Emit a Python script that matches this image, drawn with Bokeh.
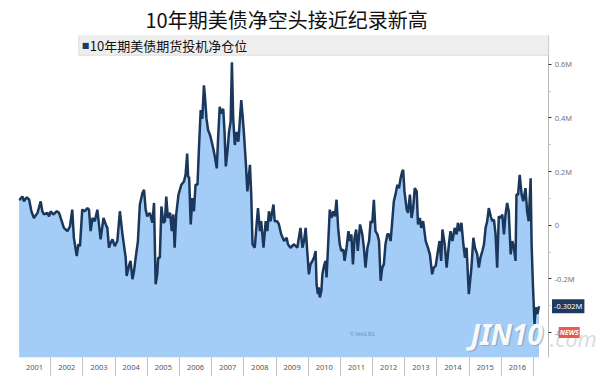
from bokeh.plotting import figure
from bokeh.models import Range1d, FixedTicker, CustomJSTickFormatter, Label, BoxAnnotation, ColumnDataSource
from bokeh.embed import file_html
from bokeh.resources import INLINE

title_text = "10年期美债净空头接近纪录新高"
series_name = "10年期美债期货投机净仓位"

# decimal year of each reading
dates = [2001.02, 2001.12, 2001.17, 2001.25, 2001.33, 2001.40, 2001.48, 2001.59, 2001.69, 2001.74, 2001.79, 2001.90, 2001.95,
         2002.00, 2002.08, 2002.19, 2002.26, 2002.31, 2002.41, 2002.52, 2002.60, 2002.67, 2002.72, 2002.81, 2002.86, 2002.91, 2002.98,
         2003.06, 2003.14, 2003.19, 2003.24, 2003.30, 2003.37, 2003.45, 2003.50, 2003.55, 2003.64, 2003.71, 2003.76, 2003.81, 2003.86, 2003.92, 2003.99,
         2004.07, 2004.15, 2004.23, 2004.28, 2004.33, 2004.36, 2004.43, 2004.48, 2004.54, 2004.59, 2004.64, 2004.71, 2004.77, 2004.85, 2004.90, 2004.95, 2005.00,
         2005.08, 2005.16, 2005.21, 2005.26, 2005.31, 2005.34, 2005.39, 2005.44, 2005.50, 2005.55, 2005.59, 2005.64, 2005.71, 2005.76, 2005.81, 2005.85, 2005.90, 2005.97,
         2006.06, 2006.14, 2006.19, 2006.24, 2006.27, 2006.30, 2006.35, 2006.40, 2006.45, 2006.50, 2006.56, 2006.61, 2006.66, 2006.71, 2006.76, 2006.79, 2006.84, 2006.89, 2006.95, 2006.99,
         2007.05, 2007.09, 2007.16, 2007.20, 2007.25, 2007.30, 2007.36, 2007.40, 2007.44, 2007.49, 2007.54, 2007.59, 2007.63, 2007.67, 2007.72, 2007.78, 2007.83, 2007.88, 2007.92, 2007.96, 2008.00,
         2008.06, 2008.11, 2008.15, 2008.19, 2008.23, 2008.27, 2008.34, 2008.38, 2008.44, 2008.50, 2008.54, 2008.61, 2008.68, 2008.73, 2008.78, 2008.83, 2008.92, 2008.96,
         2009.04, 2009.09, 2009.16, 2009.25, 2009.33, 2009.37, 2009.45, 2009.56, 2009.66, 2009.76, 2009.82, 2009.87, 2009.92, 2009.97,
         2010.02, 2010.07, 2010.13, 2010.18, 2010.23, 2010.26, 2010.30, 2010.33, 2010.36, 2010.41, 2010.44, 2010.49, 2010.54, 2010.57, 2010.61,
         2010.67, 2010.72, 2010.78, 2010.83, 2010.88, 2010.93, 2010.98, 2011.03, 2011.09, 2011.13, 2011.19, 2011.25, 2011.30, 2011.34, 2011.39, 2011.44, 2011.49, 2011.54, 2011.61, 2011.68, 2011.73, 2011.78, 2011.84, 2011.89, 2011.94, 2011.99,
         2012.04, 2012.09, 2012.15, 2012.20, 2012.25, 2012.30, 2012.35, 2012.40, 2012.46, 2012.51, 2012.56, 2012.61, 2012.66, 2012.71, 2012.77, 2012.82, 2012.87, 2012.92, 2012.95, 2012.99,
         2013.06, 2013.10, 2013.16, 2013.21, 2013.26, 2013.31, 2013.37, 2013.41, 2013.47, 2013.51, 2013.57, 2013.65, 2013.72, 2013.78, 2013.85, 2013.90, 2013.96, 2014.03, 2014.08, 2014.13, 2014.17, 2014.24, 2014.30, 2014.37,
         2014.42, 2014.48, 2014.55, 2014.61, 2014.65, 2014.71, 2014.76, 2014.82, 2014.87, 2014.92, 2014.99, 2015.02, 2015.07, 2015.13, 2015.18, 2015.25, 2015.30, 2015.35, 2015.41, 2015.46, 2015.51, 2015.56, 2015.61, 2015.67, 2015.72, 2015.77, 2015.82, 2015.87, 2015.92, 2015.98,
         2016.03, 2016.08, 2016.13, 2016.18, 2016.23, 2016.29, 2016.34, 2016.39, 2016.44, 2016.47, 2016.52, 2016.57, 2016.63, 2016.68, 2016.75, 2016.80, 2016.85, 2016.91, 2016.94, 2016.98, 2017.03, 2017.07, 2017.12, 2017.17]

# net speculative position, thousands of contracts
net_k = [93, 107, 89, 104, 96, 52, 27, 46, 89, 52, 40, 46, 33,
         52, 40, 52, 46, 27, -10, -22, -4, 58, -47, -115, -71, -78, 58,
         52, 64, 58, -22, 27, 15, 58, 3, -53, 27, 3, -10, -84, -66, -53, -78,
         -59, 52, -34, -78, -121, -189, -152, -133, -201, -170, -121, -59, 77, 120, 132, 58, 33,
         46, 9, 83, -220, -183, -121, -121, 70, 9, 15, 107, 27, 46, -22, 40, -84, 40, 114,
         151, 163, 188, 267, 178, 181, 3, 101, 52, 151, 151, 299, 429, 397, 521, 484, 397, 354, 336, 317,
         286, 262, 212, 323, 441, 416, 434, 348, 219, 274, 348, 385, 607, 397, 299, 348, 311, 397, 466, 410, 348,
         237, 126, 175, 225, 114, -71, -84, -22, 64, -22, 15, -84, 15, -22, 52, 15, 77, 15,
         15, 3, -34, -59, -47, -71, -84, -71, -84, -10, -84, -59, -10, -96,
         -183, -146, -133, -121, -96, -220, -257, -232, -269, -244, -183, -152, -133, -195, -96,
         58, 27, 52, 33, 95, -10, -71, -96, -90, -133, -84, -22, -59, -34, -146, -47, -16, -96, 3, -34, -84, -158, -84, -59, 15, 9,
         95, -22, -34, -59, -207, -158, -146, -71, -34, -34, -59, 15, 89, 114, 151, 138, 175, 200, 206, 126,
         58, 46, 114, 27, 64, 138, 126, 3, 27, -10, 15, -59, -84, -109, -183, -158, -152, -96, -59, -133, -16, -71, -158, -71,
         -22, -59, -10, -34, 9, -22, 9, -71, -121, -84, -257, -220, -158, -47, -84, -109, -158, -121, -96, -71, -10, 15, 64, 33, 15, 21, -34, -158, 33, 27,
         40, -34, 40, 83, 52, -109, -59, -84, -133, 114, 114, 188, 114, 89, 138, 52, 15, 175, -71, -220, -368, -306, -331, -302]

assert len(dates) == len(net_k)

year_labels = [str(y) for y in range(2001, 2017)]
year_mid = [y + 0.5 for y in range(2001, 2017)]
year_bounds = [float(y) for y in range(2002, 2018)]
y_ticks = [-400, -200, 0, 200, 400, 600]
y_minor = [-300, -100, 100, 300, 500]
y_tick_labels = ["-0.4M", "-0.2M", "0", "0.2M", "0.4M", "0.6M"]
last_label = "-0.302M"

x0, x_axis_pos, x1 = 2001.0, 2017.47, 2019.08
y0, y1 = -493, 707

p = figure(width=600, height=376, output_backend="svg", toolbar_location=None,
           x_range=Range1d(x0, x1), y_range=Range1d(y0, y1), y_axis_location="right",
           min_border_left=18, min_border_right=0, min_border_top=33, min_border_bottom=19)
p.outline_line_color = None
p.xgrid.visible = False
p.ygrid.visible = False
p.background_fill_color = "white"
p.border_fill_color = "white"

p.title.text = title_text
p.title.align = "left"
p.title.offset = 127
p.title.text_font = "Noto Sans CJK SC"
p.title.text_font_size = "20px"
p.title.text_font_style = "normal"
p.title.text_color = "#111111"
p.title.standoff = 4

src = ColumnDataSource(dict(x=dates, y=net_k, base=[y0] * len(dates)))
p.varea(x="x", y1="base", y2="y", source=src, fill_color="#a3cdf6")
p.line(x="x", y="y", source=src, line_color="#1b375b", line_width=2.5)

# x axis: labels centred in year boxes, separators at year boundaries
xa = p.xaxis[0]
xa.ticker = FixedTicker(ticks=year_mid, minor_ticks=year_bounds)
xa.formatter = CustomJSTickFormatter(code="return String(Math.floor(tick));")
xa.major_tick_line_color = None
xa.major_tick_out = 0
xa.major_tick_in = 0
xa.minor_tick_out = 19
xa.minor_tick_in = 0
xa.minor_tick_line_color = "#c4c4c4"
xa.axis_line_color = None
xa.major_label_text_font = "Noto Sans"
xa.major_label_text_font_size = "7.5px"
xa.major_label_text_color = "#555555"
xa.major_label_standoff = -12

ya = p.yaxis[0]
ya.fixed_location = x_axis_pos
ya.ticker = FixedTicker(ticks=y_ticks, minor_ticks=y_minor)
ya.major_label_overrides = {t: l for t, l in zip(y_ticks, y_tick_labels)}
ya.axis_line_color = "#b8b8b8"
ya.major_tick_line_color = "#333333"
ya.major_tick_out = 3
ya.major_tick_in = 0
ya.minor_tick_line_color = "#bbbbbb"
ya.minor_tick_out = 2
ya.minor_tick_in = 0
ya.major_label_text_font = "Noto Sans"
ya.major_label_text_font_size = "7.5px"
ya.major_label_text_color = "#777777"
ya.major_label_standoff = 3

# legend bar
p.add_layout(BoxAnnotation(left=2002.87, right=x_axis_pos, top=y1, bottom=633,
                           fill_color="#eeeeee", fill_alpha=1, line_color="#a8a8a8", line_width=1))
p.add_layout(Label(x=2002.87, y=670, x_offset=3, text="■", text_color="#1d3b60",
                   text_font="DejaVu Sans", text_font_size="8px", text_baseline="middle"))
p.add_layout(Label(x=2002.87, y=670, x_offset=11, text=series_name, text_color="#111111",
                   text_font="Noto Sans CJK SC", text_font_size="13px", text_baseline="middle"))

# watermark / source marks
p.add_layout(Label(x=2011.3, y=-404, text="© MAG BG", text_color="#6f93bb",
                   text_font="Noto Sans", text_font_size="5px", text_baseline="middle"))
p.add_layout(Label(x=2015.05, y=-476, x_offset=1.5, y_offset=-1.5, text="JIN10", text_color="#7d8ea3", text_alpha=0.55,
                   text_font="Noto Sans", text_font_size="28px", text_font_style="bold italic", level="overlay"))
p.add_layout(Label(x=2015.05, y=-476, text="JIN10", text_color="white", text_alpha=0.95,
                   text_font="Noto Sans", text_font_size="28px", text_font_style="bold italic", level="overlay"))
p.add_layout(Label(x=2017.5, y=-476, text=".com", text_color="#d8d8d8", text_alpha=0.9,
                   text_font="Noto Sans", text_font_size="22px", text_font_style="italic", level="overlay"))
p.add_layout(Label(x=x_axis_pos, y=-400, x_offset=10, text="NEWS", text_color="white",
                   text_font="Noto Sans", text_font_size="7px", text_font_style="bold italic", text_baseline="middle",
                   background_fill_color="#e8403a", background_fill_alpha=0.85, padding=1, level="overlay"))

# last value tag
p.add_layout(Label(x=dates[-1], y=net_k[-1], x_offset=13, text=last_label, text_color="white",
                   text_font="Noto Sans", text_font_size="7.5px", text_baseline="middle",
                   background_fill_color="#1f3a5f", background_fill_alpha=1, padding=2, level="overlay"))

open("out.html", "w").write(file_html(p, INLINE))
